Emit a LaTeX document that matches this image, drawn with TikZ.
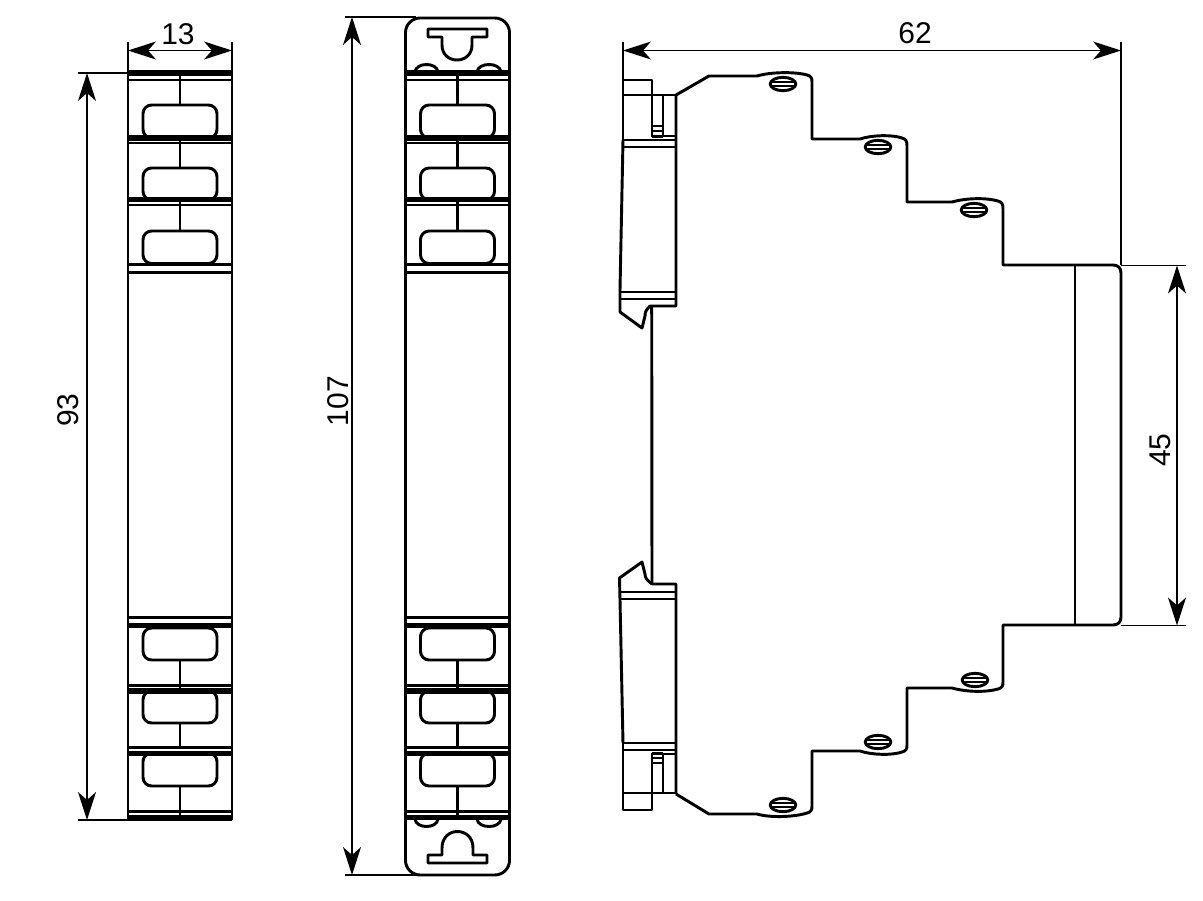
\documentclass[tikz,border=0pt]{standalone}
\usepackage{fontspec}
\setmainfont{Liberation Sans}
\usetikzlibrary{arrows.meta}
\tikzset{
  obj/.style={line width=2.2pt,line join=round,line cap=butt},
  objthin/.style={line width=1.6pt,line join=round},
  bar/.style={line width=3.8pt},
  ext/.style={line width=1.05pt},
  dimline/.style={line width=1.05pt,{Stealth[length=21pt,width=13.5pt,inset=6pt]}-{Stealth[length=21pt,width=13.5pt,inset=6pt]}},
  dimtext/.style={font=\fontsize{22.5}{22.5}\selectfont,inner sep=0pt},
  slot/.style={obj,rounded corners=6.5pt},
}
\newcommand{\screwat}[2]{%
  \draw[obj,fill=white] (#1,#2) ellipse [x radius=9.6pt,y radius=5pt];
  \draw[line width=1.2pt] (#1-12,#2-2.2) -- (#1+12,#2-2.2) (#1-12,#2+2.2) -- (#1+12,#2+2.2);
}
\begin{document}
\begin{tikzpicture}[x=0.75pt,y=-0.75pt]
\useasboundingbox (0,0) rectangle (1203,900);
\fill[white] (0,0) rectangle (1203,900);

% front bays, shared by both front views
\foreach \xo in {128,405.5}{
\begin{scope}[xshift=\xo*0.75pt]
  % centre webs
  \draw[obj] (52,73) -- (52,105) (52,137) -- (52,168) (52,199) -- (52,231);
  \draw[obj] (52,660) -- (52,688) (52,723) -- (52,748) (52,785) -- (52,817);
  % slots
  \draw[slot] (15,138) rectangle (89,105);
  \draw[slot] (15,200) rectangle (89,168);
  \draw[slot] (15,263.5) rectangle (89,231);
  \draw[slot] (15,660) rectangle (89,628);
  \draw[slot] (15,691) rectangle (89,723);
  \draw[slot] (15,753) rectangle (89,786);
  % bars
  \draw[bar] (0,73) -- (104,73);
  \draw[objthin] (0,80) -- (104,80);
  \draw[bar] (0,138) -- (104,138);
  \draw[objthin] (0,143) -- (104,143);
  \draw[bar] (0,199.5) -- (104,199.5);
  \draw[objthin] (0,205) -- (104,205);
  \draw[obj] (0,264.5) -- (104,264.5) (0,272.5) -- (104,272.5);
  \draw[obj] (0,617.5) -- (104,617.5);
  \draw[bar] (0,625.5) -- (104,625.5);
  \draw[objthin] (0,685.5) -- (104,685.5);
  \draw[bar] (0,691) -- (104,691);
  \draw[obj] (0,747.5) -- (104,747.5);
  \draw[bar] (0,753.5) -- (104,753.5);
  \draw[objthin] (0,811.5) -- (104,811.5);
  \draw[bar] (0,817.5) -- (104,817.5);
\end{scope}}

% left view outline
\draw[obj] (128,72) -- (128,820) (232,72) -- (232,820);
\draw[obj] (128,819.5) -- (232,819.5);

% middle view outline
\draw[obj,rounded corners=11pt] (405.5,73) -- (405.5,18) -- (509.5,18) -- (509.5,875) -- (405.5,875) -- cycle;
% upper hook
\draw[obj] (428,29) -- (487,29) -- (487,37) -- (472,37) -- (472,45)
  .. controls (472,65) and (442,65) .. (442,45) -- (442,37) -- (428,37) -- cycle;
\draw[obj] (415,72) .. controls (416,62) and (437,62) .. (438,72);
\draw[obj] (477,72) .. controls (478,62) and (500,62) .. (501,72);
% lower hook
\draw[obj] (428,863) -- (487,863) -- (487,855) -- (473,855) -- (473,848)
  .. controls (473,826) and (442,826) .. (442,848) -- (442,855) -- (428,855) -- cycle;
\draw[obj] (415,819) .. controls (416,829) and (437,829) .. (438,819);
\draw[obj] (477,819) .. controls (478,829) and (500,829) .. (501,819);

% side view: body outline
\draw[obj]
  (676,95) -- (709,76) -- (757,76) .. controls (770,72) and (795,71.5) .. (807,75)
  .. controls (811,76) and (812,78) .. (812,82) -- (812,139) -- (860,139)
  .. controls (872,135) and (892,134.5) .. (902,138) .. controls (906,139) and (907,141) .. (907,146)
  -- (907,202) -- (952,202) .. controls (966,198) and (986,197.5) .. (998,201)
  .. controls (1002,202) and (1003,204) .. (1003,209) -- (1003,265) -- (1113,265)
  .. controls (1118,265) and (1121,268) .. (1121,273) -- (1121,617)
  .. controls (1121,622) and (1118,625) .. (1113,625) -- (1003,625) -- (1003,682)
  .. controls (1003,686) and (1002,688) .. (998,689) .. controls (986,692.5) and (966,692) .. (952,688)
  -- (907,688) -- (907,745) .. controls (907,749) and (906,751) .. (902,752)
  .. controls (892,755.5) and (872,755) .. (860,751) -- (812,751) -- (812,806)
  .. controls (812,810) and (811,812) .. (807,813) .. controls (795,817) and (770,818) .. (757,814)
  -- (709,814) -- (676,794);
\draw[obj] (1075,265) -- (1075,625);
\screwat{783}{84}
\screwat{878}{147}
\screwat{974}{210}
\screwat{975}{680}
\screwat{878}{742}
\screwat{783}{805}

% side view: upper latch
\draw[obj] (623,140) -- (623,80) -- (652,80) -- (652,137);
\draw[objthin] (623,95) -- (676,95);
\draw[obj] (663,95) -- (663,137);
\draw[obj] (676,95) -- (676,306) -- (650,306)
  .. controls (646,310) and (645,312) .. (645,316) -- (642,328) -- (620,312) -- (620,290) -- (623,140);
\draw[objthin] (652,126) -- (663,126) (652,131) -- (663,131);
\draw[obj] (652,136.5) -- (663,136.5);
\draw[objthin] (663,136) -- (676,136);
\draw[obj] (623,140) -- (676,140) (623,147) -- (676,147);
\draw[obj] (621,292) -- (676,292) (621,299) -- (676,299);
% side view: lower latch
\draw[obj] (623,743) -- (623,810) -- (652,810) -- (652,753);
\draw[objthin] (623,793) -- (676,793);
\draw[obj] (663,753) -- (663,793);
\draw[obj] (676,794) -- (676,584) -- (652,584) -- (651.7,306);
\draw[obj] (652,584) .. controls (647,580) and (645,578) .. (645,574) -- (642,562) -- (619.5,578) -- (620,600) -- (623,743);
\draw[objthin] (652,758) -- (663,758) (652,763) -- (663,763);
\draw[obj] (652,753.5) -- (663,753.5);
\draw[objthin] (663,754) -- (676,754);
\draw[obj] (623,743) -- (676,743) (623,750) -- (676,750);
\draw[obj] (621,592) -- (676,592) (621,599) -- (676,599);

% dimension anchors
\coordinate (a13l) at (128,50.5);
\coordinate (a13r) at (232,50.5);
\coordinate (a93t) at (87,73);
\coordinate (a93b) at (87,820);
\coordinate (a107t) at (352,17);
\coordinate (a107b) at (352,875);
\coordinate (a62l) at (623,50.5);
\coordinate (a62r) at (1121,50.5);
\coordinate (a45t) at (1177,265.5);
\coordinate (a45b) at (1177,625.5);

% extension lines
\draw[ext] (128,42) -- (128,72) (232,42) -- (232,72);
\draw[ext] (78,73) -- (128,73);
\draw[ext] (78,820) -- (128,820);
\draw[objthin] (128,820) -- (152,820);
\draw[ext] (345,17) -- (416,17) (345,875) -- (416,875);
\draw[ext] (623,42) -- (623,80) (1121,42) -- (1121,265);
\draw[ext] (1121,265.5) -- (1186,265.5) (1121,625.5) -- (1186,625.5);

% dimension lines
\draw[dimline] (a13l) -- (a13r);
\draw[dimline] (a93t) -- (a93b);
\draw[dimline] (a107t) -- (a107b);
\draw[dimline] (a62l) -- (a62r);
\draw[dimline] (a45t) -- (a45b);

% dimension texts
\node[dimtext] (t13) at (178,34) {13};
\node[dimtext,rotate=90] (t93) at (68,410) {93};
\node[dimtext,rotate=90] (t107) at (338,401) {107};
\node[dimtext] (t62) at (915,33) {62};
\node[dimtext,rotate=90] (t45) at (1160,450) {45};
\end{tikzpicture}
\end{document}
